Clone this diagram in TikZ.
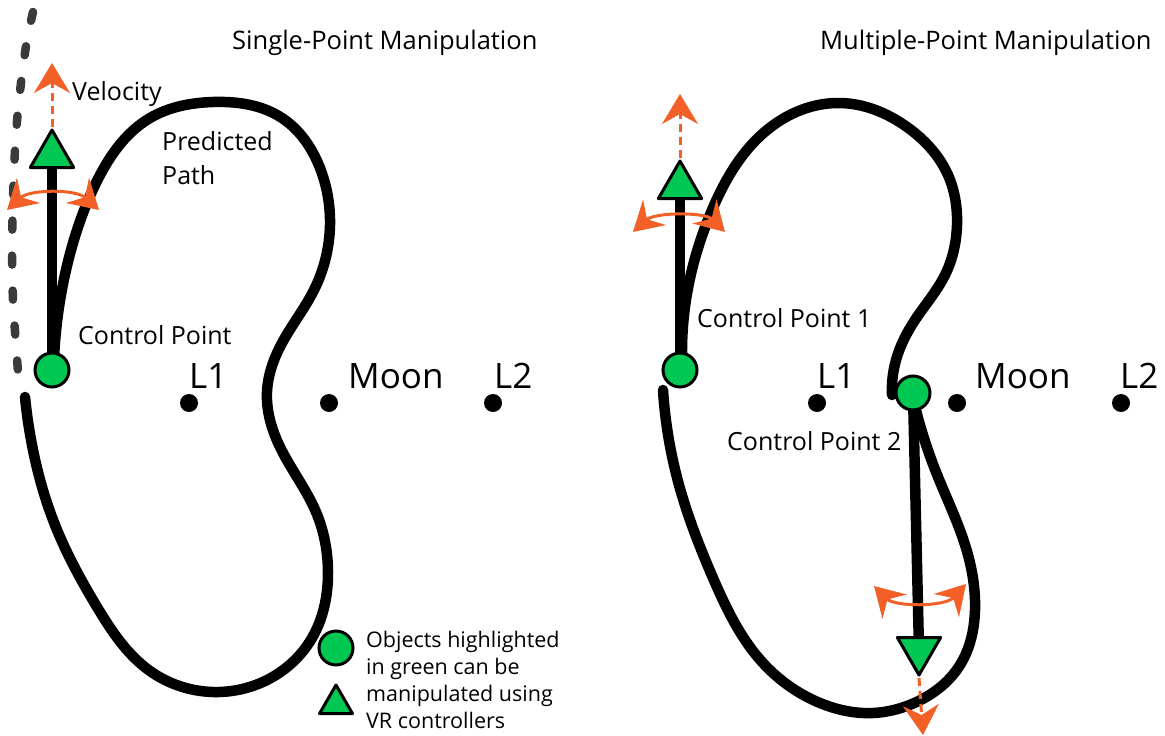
\documentclass[tikz,border=0pt]{standalone}
\usepackage{fontspec}
\setmainfont{Open Sans}
\usetikzlibrary{arrows.meta,shapes.geometric,backgrounds,hobby}
\definecolor{cpgreen}{RGB}{0,200,83}
\definecolor{arrorange}{RGB}{242,96,40}
\definecolor{dashgrey}{RGB}{58,58,58}
\begin{document}
\begin{tikzpicture}[x=1pt,y=-1pt,
  cpoint/.style={circle,draw=black,fill=cpgreen,line width=3pt,minimum size=34pt,inner sep=0pt},
  ctri/.style={regular polygon,regular polygon sides=3,draw=black,fill=cpgreen,line width=3pt,minimum size=50pt,inner sep=0pt,line join=round},
  lpoint/.style={circle,fill=black,minimum size=18pt,inner sep=0pt},
  ttl/.style={anchor=base west,inner sep=0pt,font=\fontsize{25.5}{30}\selectfont},
  lbl/.style={anchor=base west,inner sep=0pt,font=\fontsize{25}{30}\selectfont},
  biglbl/.style={anchor=base west,inner sep=0pt,font=\fontsize{35}{40}\selectfont},
  leglbl/.style={anchor=base west,inner sep=0pt,font=\fontsize{21.5}{27}\selectfont},
  orbit/.style={draw=black,line width=10.5pt,line cap=round,line join=round,use Hobby shortcut},
  vecline/.style={draw=black,line width=10.5pt},
  velarrow/.style={draw=arrorange,line width=3pt,dash pattern=on 8pt off 5pt,-{Stealth[length=30pt,width=36pt,inset=10pt]}},
  rotarrow/.style={draw=arrorange,line width=3pt,{Stealth[length=29pt,width=34pt,inset=10pt]}-{Stealth[length=29pt,width=34pt,inset=10pt]}},
  trajdash/.style={draw=dashgrey,line width=8.5pt,line cap=round,dash pattern=on 9pt off 26pt}
]
\useasboundingbox (0,0) rectangle (1165,736);

% ---------- titles ----------
\node[ttl] (titleA) at (232,49) {Single-Point Manipulation};
\node[ttl] (titleB) at (820,49) {Multiple-Point Manipulation};

% ---------- left panel nodes ----------
\node[cpoint] (cpA) at (52,370) {};
\node[ctri] (triA) at (52,155) {};
\node[lbl] (velA) at (72,100) {Velocity};
\node[lbl] (predA) at (162,150) {Predicted};
\node[lbl] (predB) at (162,184) {Path};
\node[lbl] (cplblA) at (78,344) {Control Point};
\node[lpoint] (lA1) at (189,403) {};
\node[lpoint] (moonA) at (329,403) {};
\node[lpoint] (lA2) at (493,403) {};
\node[biglbl] (lA1t) at (189,388) {L1};
\node[biglbl] (moonAt) at (348,388) {Moon};
\node[biglbl] (lA2t) at (494,388) {L2};

% ---------- legend ----------
\node[cpoint] (legC) at (336,648) {};
\node[ctri,minimum size=38pt] (legT) at (336,704) {};
\node[leglbl] (leg1) at (366,647) {Objects highlighted};
\node[leglbl] (leg2) at (366,674) {in green can be};
\node[leglbl] (leg3) at (366,701) {manipulated using};
\node[leglbl] (leg4) at (366,728) {VR controllers};

% ---------- right panel nodes ----------
\node[cpoint] (cpB1) at (680,370) {};
\node[ctri] (triB1) at (680,186) {};
\node[cpoint] (cpB2) at (913,393) {};
\node[ctri,shape border rotate=180] (triB2) at (919,650) {};
\node[lbl] (cplblB1) at (697,327) {Control Point 1};
\node[lbl] (cplblB2) at (727,450) {Control Point 2};
\node[lpoint] (lB1) at (817,403) {};
\node[lpoint] (moonB) at (957,403) {};
\node[lpoint] (lB2) at (1121,403) {};
\node[biglbl] (lB1t) at (817,388) {L1};
\node[biglbl] (moonBt) at (975,388) {Moon};
\node[biglbl] (lB2t) at (1120,388) {L2};

% ---------- coordinates for orange arrows ----------
\coordinate (velEndA) at (52,63);
\coordinate (rotA1) at (7,210);
\coordinate (rotA2) at (99,210);
\coordinate (velEndB1) at (680,94);
\coordinate (rotB1a) at (633,232);
\coordinate (rotB1b) at (725,232);
\coordinate (velEndB2) at (923,735);
\coordinate (rotB2a) at (874,586);
\coordinate (rotB2b) at (966,584);

\begin{pgfonlayer}{background}
  % previous trajectory (dashed)
  \draw[trajdash] plot[smooth] coordinates {(33,12) (27,40) (22,75) (18,110) (15,150) (13,200) (12,250) (13,300) (16,345) (19,385)};
  % left predicted path
  \draw[orbit] (54,358) .. (66,270) .. (95,185) .. (150,118) .. (213,102)
    .. (282,118) .. (320,168) .. (330,225) .. (314,290) .. (282,343)
    .. (267,392) .. (280,447) .. (316,512) .. (328,572) .. (312,638)
    .. (265,681) .. (213,692) .. (150,671) .. (97,607) .. (55,525)
    .. (33,450) .. (25,397);
  % right predicted path, upper part
  \draw[orbit] (682,355) .. (688,288) .. (712,210) .. (767,130) .. (840,103)
    .. (907,127) .. (948,175) .. (957,225) .. (945,275) .. (915,320)
    .. (896,360) .. (892,395);
  % right predicted path, lower part
  \draw[orbit] (913,398) .. (936,472) .. (966,548) .. (975,610) .. (960,665)
    .. (912,704) .. (873,713) .. (820,703) .. (763,663) .. (713,578)
    .. (679,485) .. (663,390);
  % velocity vectors
  \draw[vecline] (cpA.center) -- (triA.center);
  \draw[vecline] (cpB1.center) -- (triB1.center);
  \draw[vecline] (cpB2.center) -- (triB2.center);
\end{pgfonlayer}

% ---------- orange arrows ----------
\draw[velarrow] (triA.corner 1) -- (velEndA);
\draw[rotarrow] (rotA1) .. controls (30,189) and (76,189) .. (rotA2);
\draw[velarrow] (triB1.corner 1) -- (velEndB1);
\draw[rotarrow] (rotB1a) .. controls (655,212) and (705,212) .. (rotB1b);
\draw[velarrow] (triB2.corner 1) -- (velEndB2);
\draw[rotarrow] (rotB2a) .. controls (895,607) and (945,607) .. (rotB2b);
\end{tikzpicture}
\end{document}
